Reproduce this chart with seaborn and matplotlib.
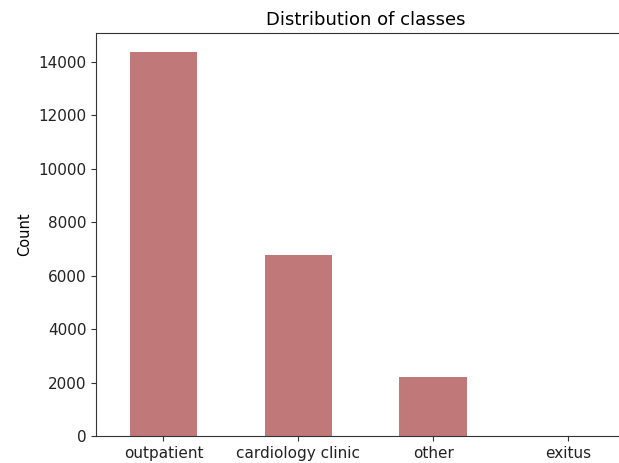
import matplotlib
matplotlib.use("Agg")
import matplotlib.pyplot as plt
import seaborn as sns
import pandas as pd

categories = ["outpatient", "cardiology clinic", "other", "exitus"]
counts = [14360, 6790, 2200, 10]

df = pd.DataFrame({"class": categories, "Count": counts})

fig = plt.figure(figsize=(6.19, 4.63), dpi=100)
ax = fig.add_axes([96/619, 27/463, (635.5-96)/619, (436-33)/463])
sns.barplot(data=df, x="class", y="Count", color="#C07878", saturation=1,
            width=0.5, ax=ax)
ax.set_xlim(-0.5, 3.5)
ax.set_xlabel("")
ax.set_ylabel("Count", fontsize=10.5)
ax.set_title("Distribution of classes", fontsize=13)
ax.set_yticks([0, 2000, 4000, 6000, 8000, 10000, 12000, 14000])
ax.tick_params(axis="both", labelsize=11, colors="#333333", labelcolor="#222222")
for s in ax.spines.values():
    s.set_color("#333333")
fig.savefig("out.png", dpi=100)
